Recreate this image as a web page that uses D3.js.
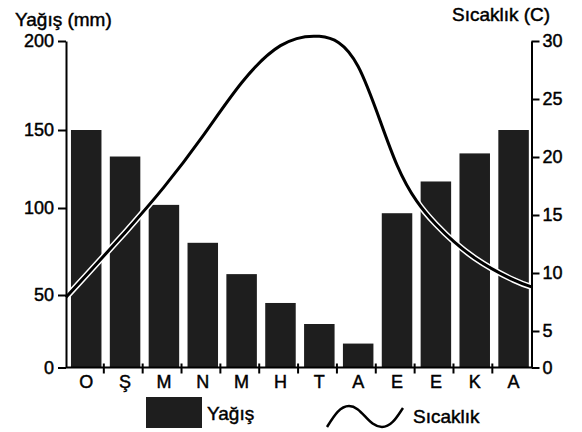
<!DOCTYPE html>
<html><head><meta charset="utf-8">
<script src="https://cdn.jsdelivr.net/npm/d3@7"></script>
<style>html,body{margin:0;padding:0;background:#fff}</style>
</head><body><svg id="c" width="582" height="432"></svg>
<script>
const months = ["O","Ş","M","N","M","H","T","A","E","E","K","A"];
const rainfall = [150,133,102,80,62,44.5,30,16.5,97,117,135,150];
const temperature = [9.8,13.5,17.4,21.8,26.4,29.6,30.4,27.8,19.3,14.2,11.3,9.4];
const tempAtEdges = [7.9, 8.8];
const rainTicks = [0,50,100,150,200];
const tempTicks = [0,5,10,15,20,25,30];
const rainTitle = "Yağış (mm)";
const tempTitle = "Sıcaklık (C)";
const legendRain = "Yağış";
const legendTemp = "Sıcaklık";

const FONT = "'Liberation Sans', Arial, Helvetica, sans-serif";
const BAR = "#1e1e1e";
const svg = d3.select("#c");
svg.append("rect").attr("width",582).attr("height",432).attr("fill","#fff");

const LX = 66, RX = 531.5, Y0 = 367.5;
const x = d3.scaleBand().domain(d3.range(12)).range([63.2,536.6]).paddingInner(0.215).paddingOuter(0.2);
const yL = d3.scaleLinear().domain([0,50,100,150,200]).range([Y0,295,208,130,41]);
const yR = d3.scaleLinear().domain([0,5,30]).range([Y0,331,41]);

// bars
svg.append("g").selectAll("rect").data(rainfall).join("rect")
  .attr("x",(d,i)=>x(i)).attr("width",x.bandwidth())
  .attr("y",d=>yL(d)).attr("height",d=>Y0-yL(d))
  .attr("fill",BAR);

// temperature curve
const pts = [[LX,tempAtEdges[0]]]
  .concat(temperature.map((t,i)=>[x(i)+x.bandwidth()/2,t]))
  .concat([[RX,tempAtEdges[1]]]);
const line = d3.line().x(d=>d[0]).y(d=>yR(d[1])).curve(d3.curveNatural);
svg.append("path").attr("d",line(pts)).attr("fill","none").attr("stroke","#fff").attr("stroke-width",6);
svg.append("path").attr("d",line(pts)).attr("fill","none").attr("stroke","#000").attr("stroke-width",3);

function styleText(sel){
  sel.attr("fill","#000").attr("stroke","#000").attr("stroke-width",0.45);
}
function styleAxis(g){
  g.attr("font-family",FONT).attr("font-size",18);
  g.selectAll("path,line").attr("stroke","#000").attr("stroke-width",2);
  g.selectAll("text").call(styleText);
}
// left axis
svg.append("g").attr("transform",`translate(${LX},0)`)
  .call(d3.axisLeft(yL).tickValues(rainTicks).tickSize(8).tickSizeOuter(0).tickPadding(4))
  .call(styleAxis);
// right axis
svg.append("g").attr("transform",`translate(${RX},0)`)
  .call(d3.axisRight(yR).tickValues(tempTicks).tickSize(8).tickSizeOuter(0).tickPadding(3))
  .call(styleAxis);
// x axis line
svg.append("line").attr("x1",LX).attr("x2",RX).attr("y1",Y0).attr("y2",Y0)
  .attr("stroke","#000").attr("stroke-width",2);
// x ticks between bars
svg.append("g").selectAll("line").data(d3.range(1,12)).join("line")
  .attr("x1",i=>x(i)-6).attr("x2",i=>x(i)-6).attr("y1",Y0-4).attr("y2",Y0+6)
  .attr("stroke","#000").attr("stroke-width",2);
// month labels
const xa = svg.append("g").attr("transform",`translate(0,${Y0})`)
  .call(d3.axisBottom(x).tickFormat(i=>months[i]).tickSize(0).tickPadding(8));
xa.select(".domain").remove();
xa.attr("font-family",FONT).attr("font-size",18);
xa.selectAll("text").call(styleText);

// titles
svg.append("text").attr("x",15).attr("y",26).attr("font-family",FONT).attr("font-size",19).text(rainTitle).call(styleText);
svg.append("text").attr("x",452).attr("y",21).attr("font-family",FONT).attr("font-size",19).text(tempTitle).call(styleText);

// legend
svg.append("rect").attr("x",146).attr("y",397).attr("width",56).attr("height",31).attr("fill",BAR);
svg.append("text").attr("x",207).attr("y",420).attr("font-family",FONT).attr("font-size",19).text(legendRain).call(styleText);
const p = d3.path();
p.moveTo(327,427);
p.bezierCurveTo(334,416,340,406,349,406);
p.bezierCurveTo(362,406,368,427,382,427);
p.bezierCurveTo(392,427,398,415,403,408);
svg.append("path").attr("d",p.toString()).attr("fill","none").attr("stroke","#000").attr("stroke-width",2.5);
svg.append("text").attr("x",413).attr("y",423).attr("font-family",FONT).attr("font-size",19).text(legendTemp).call(styleText);
</script></body></html>
